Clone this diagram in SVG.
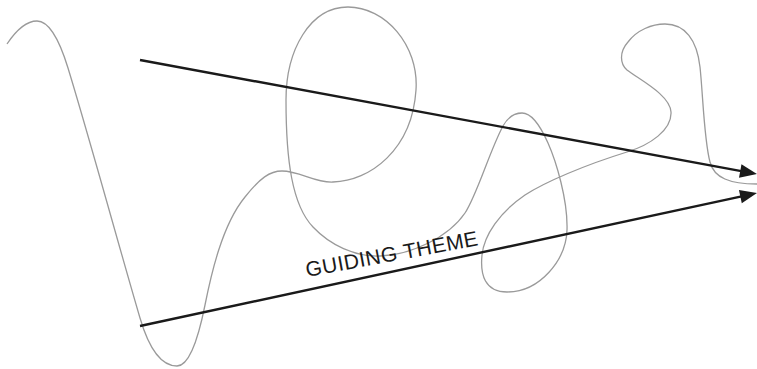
<svg xmlns="http://www.w3.org/2000/svg" width="757" height="369" viewBox="0 0 757 369">
<style>
.wave{fill:none;stroke:#9a9a9a;stroke-width:1.3}
.arrow{fill:none;stroke:#1a1a1a;stroke-width:2.4}
.label{font-family:"Liberation Sans",Arial,sans-serif;font-size:21px;letter-spacing:0.5px;fill:#1a1a1a}
</style>
<defs>
<marker id="head" markerUnits="userSpaceOnUse" markerWidth="20" markerHeight="16" viewBox="-3 -8 20 16" refX="0" refY="0" orient="auto">
<path d="M-2.5,-6.8 L14.5,0 L-2.5,6.8 z" fill="#1a1a1a"/>
</marker>
</defs>
<g id="wave">
<path class="wave" d="M7,44 C15,32 26,21 37,21 C50,21 60,42 68,68 C90,140 120,250 140,318 C150,352 162,366 177,366 C190,366 199,335 205,305 C211,275 222,225 245,197 C260,178 270,171 282,171 C300,171 315,183 333,182 C370,181 412,150 416,90 C419,45 385,7 348,7 C310,7 286,50 286,100 C286,160 292,205 313,227 C330,245 355,257 380,256 C410,255 448,238 465,213 C477,195 490,150 503,126 C508,117 514,113 522,113 C532,113 540,125 548,143 C556,161 568,200 567,230 C566,260 540,292 507,292 C485,292 480,275 482,255 C484,235 500,212 525,195 C545,182 585,165 627,152 C650,145 672,130 671,112 C670,95 640,80 627,70 C620,64 619,52 628,42 C637,30 652,24 665,24 C685,24 697,40 700,67 C703,95 704,140 710,162 C714,178 730,184 757,184"/>
</g>
<g id="connectors">
<path class="arrow" d="M140,60 L742.7,171.4" marker-end="url(#head)"/>
<path class="arrow" d="M140,326 L742.8,196.1" marker-end="url(#head)"/>
</g>
<g id="label-guiding-theme">
<text class="label" x="307" y="277" transform="rotate(-10.5 307 277)">GUIDING THEME</text>
</g>
</svg>
